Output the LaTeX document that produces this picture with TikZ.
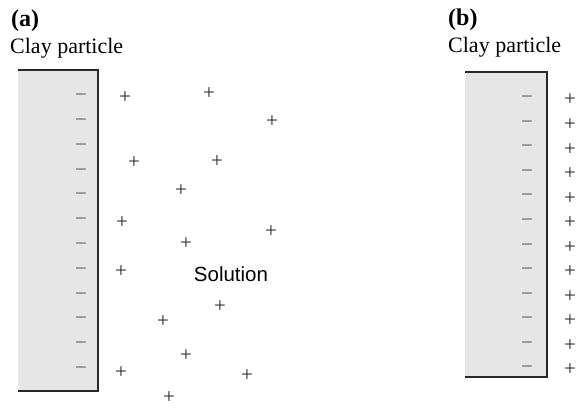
\documentclass[tikz,border=0pt]{standalone}
\usepackage{fontspec}
\setmainfont{Liberation Serif}
\newfontfamily\solfont{Liberation Sans}
\definecolor{claygray}{RGB}{230,230,230}
\definecolor{edgegray}{RGB}{40,40,40}
\definecolor{minusgray}{RGB}{90,90,90}

\begin{document}
\begin{tikzpicture}[x=1pt,y=-1pt,
    sign/.style={font=\fontsize{21}{21}\selectfont, text=edgegray, inner sep=0pt},
    minus/.style={sign, text=minusgray},
    title/.style={anchor=base west, inner sep=0pt, font=\fontsize{24}{24}\selectfont\bfseries},
    claytext/.style={anchor=base west, inner sep=0pt, font=\fontsize{22}{22}\selectfont},
    clayedge/.style={edgegray, line width=2pt}]
    \useasboundingbox (0,0) rectangle (577,408);

    % (a) clay particle with loose ions
    \fill[claygray] (18,70) rectangle (98,391);
    \draw[clayedge] (18,70) -- (98,70) -- (98,391) -- (18,391);
    \node[title] (tta) at (11,26) {(a)};
    \node[claytext] (cpa) at (10,53) {Clay particle};
    \foreach \i in {0,...,11}
        \node[minus] (ma\i) at (81,98+24.8*\i) {−};
    \foreach \x/\y [count=\k] in {125/98, 209/94, 272/122, 134/163, 217/162,
        181/191, 122/223, 271/232, 186/244, 121/272, 220/307, 163/322,
        186/356, 121/373, 247/376, 169/398}
        \node[sign] (pa\k) at (\x,\y) {+};
    \node[font=\fontsize{20.5}{20.5}\selectfont\solfont, inner sep=0pt] (sol) at (231,274) {Solution};

    % (b) clay particle with bound ions
    \fill[claygray] (465,72) rectangle (547,377);
    \draw[clayedge] (465,72) -- (547,72) -- (547,377) -- (465,377);
    \node[title] (ttb) at (448,25) {(b)};
    \node[claytext] (cpb) at (448,52) {Clay particle};
    \foreach \i in {0,...,11} {
        \node[minus] (mb\i) at (527,100+24.55*\i) {−};
        \node[sign] (pb\i) at (570,100+24.55*\i) {+};
    }
\end{tikzpicture}
\end{document}
